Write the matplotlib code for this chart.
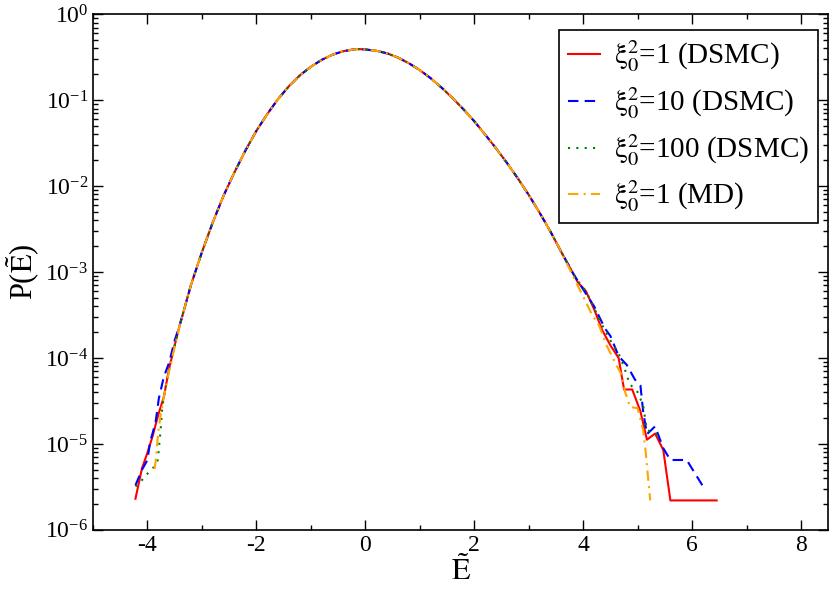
import matplotlib
matplotlib.use('Agg')
import matplotlib.pyplot as plt
from matplotlib.ticker import MultipleLocator, LogLocator

plt.rcParams['font.family'] = ['Liberation Serif', 'DejaVu Serif']
plt.rcParams['mathtext.fontset'] = 'stix'
plt.rcParams['axes.unicode_minus'] = False

# common central part of the distributions (all four curves overlap here)
body_x = [-3.4, -3.2, -3.0, -2.8, -2.6, -2.4, -2.2, -2.0, -1.8, -1.6, -1.4, -1.2,
          -1.0, -0.8, -0.6, -0.4, -0.2, -0.1, 0.0, 0.2, 0.4, 0.6, 0.8, 1.0, 1.2,
          1.4, 1.6, 1.8, 2.0, 2.2, 2.4, 2.6, 2.8, 3.0, 3.2, 3.4, 3.6]
body_p = [2.5e-4, 7.1e-4, 1.7e-3, 3.8e-3, 7.8e-3, 1.46e-2, 2.6e-2, 4.4e-2, 6.9e-2,
          0.1035, 0.146, 0.195, 0.245, 0.295, 0.339, 0.372, 0.391, 0.393, 0.389,
          0.376, 0.351, 0.313, 0.269, 0.224, 0.180, 0.140, 0.106, 0.0785, 0.0569,
          0.0398, 0.0275, 0.0186, 0.0123, 0.0079, 0.0049, 0.00295, 0.0017]

# xi0^2 = 1 (DSMC)
red_left_x = [-4.22, -4.1, -4.0, -3.9, -3.8, -3.7, -3.6, -3.5]
red_left_p = [2.3e-6, 5.2e-6, 7.9e-6, 1.26e-5, 2.2e-5, 3.5e-5, 7.6e-5, 1.4e-4]
red_right_x = [3.8, 3.9, 4.05, 4.2, 4.35, 4.5, 4.65, 4.75, 4.9, 5.05, 5.17, 5.32,
               5.47, 5.6, 6.45]
red_right_p = [1.0e-3, 7.6e-4, 6.0e-4, 3.7e-4, 2.1e-4, 1.4e-4, 1.0e-4, 4.3e-5,
               4.3e-5, 2.4e-5, 1.12e-5, 1.32e-5, 8.5e-6, 2.2e-6, 2.2e-6]

# xi0^2 = 10 (DSMC)
blue_left_x = [-4.22, -4.1, -4.0, -3.95, -3.91, -3.85, -3.79, -3.7, -3.6, -3.5]
blue_left_p = [3.3e-6, 5.0e-6, 6.5e-6, 1.07e-5, 1.3e-5, 1.8e-5, 3.4e-5, 6.0e-5,
               8.9e-5, 1.6e-4]
blue_right_x = [3.8, 3.9, 4.05, 4.2, 4.4, 4.5, 4.65, 4.8, 4.95, 5.05, 5.1, 5.17,
                5.32, 5.47, 5.6, 5.9, 6.2]
blue_right_p = [1.0e-3, 7.9e-4, 5.6e-4, 4.0e-4, 2.2e-4, 1.8e-4, 1.05e-4, 8.3e-5,
                5.6e-5, 4.8e-5, 2.4e-5, 1.3e-5, 1.6e-5, 8.9e-6, 6.5e-6, 6.5e-6,
                3.2e-6]

# xi0^2 = 100 (DSMC)
green_left_x = [-4.22, -4.1, -4.0, -3.88, -3.81, -3.76, -3.73, -3.7, -3.6, -3.5]
green_left_p = [3.2e-6, 3.8e-6, 4.5e-6, 5.4e-6, 6.5e-6, 1.4e-5, 2.5e-5, 3.5e-5,
                7.6e-5, 1.4e-4]
green_right_x = [3.8, 3.9, 4.05, 4.2, 4.35, 4.5, 4.65, 4.75, 4.85, 5.0, 5.1,
                 5.17, 5.4]
green_right_p = [1.0e-3, 7.9e-4, 6.0e-4, 3.8e-4, 2.4e-4, 1.6e-4, 1.12e-4, 7.9e-5,
                 5.0e-5, 4.0e-5, 2.8e-5, 1.45e-5, 1.26e-5]

# xi0^2 = 1 (MD)
orange_left_x = [-3.87, -3.85, -3.8, -3.76, -3.7, -3.6, -3.5]
orange_left_p = [5.1e-6, 6.2e-6, 1.4e-5, 2.1e-5, 3.5e-5, 7.1e-5, 1.35e-4]
orange_right_x = [3.7, 3.86, 3.95, 4.16, 4.29, 4.43, 4.59, 4.71, 4.77, 4.86, 5.0,
                  5.1, 5.14, 5.23]
orange_right_p = [1.26e-3, 7.8e-4, 6.0e-4, 3.2e-4, 2.4e-4, 1.4e-4, 8.7e-5, 6.3e-5,
                  4.0e-5, 2.7e-5, 2.6e-5, 1.45e-5, 8.9e-6, 2.2e-6]

labels = [r'$\mathrm{\xi}_0^2$=1 (DSMC)', r'$\mathrm{\xi}_0^2$=10 (DSMC)',
          r'$\mathrm{\xi}_0^2$=100 (DSMC)', r'$\mathrm{\xi}_0^2$=1 (MD)']

series = [
    (red_left_x, red_left_p, red_right_x, red_right_p, '#ff0000', '-'),
    (blue_left_x, blue_left_p, blue_right_x, blue_right_p, '#0000ff', (0, (5, 3))),
    (green_left_x, green_left_p, green_right_x, green_right_p, '#008000', (0, (1, 3))),
    (orange_left_x, orange_left_p, orange_right_x, orange_right_p, '#ffa500',
     (0, (5, 2.5, 1, 2.5))),
]

fig = plt.figure(figsize=(8.3, 5.94), dpi=100)
ax = fig.add_axes([0.112, 0.108, 0.886, 0.868])

for (lx, lp, rx, rp, col, ls), lab in zip(series, labels):
    x = lx + body_x + rx
    p = lp + body_p + rp
    ax.plot(x, p, color=col, linestyle=ls, linewidth=1.5, label=lab)

ax.set_yscale('log')
ax.set_xlim(-5, 8.5)
ax.set_ylim(1e-6, 1)
ax.xaxis.set_major_locator(MultipleLocator(2))
ax.xaxis.set_minor_locator(MultipleLocator(1))
ax.yaxis.set_major_locator(LogLocator(base=10, numticks=10))
ax.yaxis.set_minor_locator(LogLocator(base=10, subs=range(2, 10), numticks=20))
ax.tick_params(which='both', direction='in', top=True, right=True, labelsize=17,
               width=1.0)
ax.tick_params(which='major', length=7)
ax.tick_params(which='minor', length=3.5)
for s in ax.spines.values():
    s.set_linewidth(1.2)

ax.set_xlabel(r'$\tilde{\mathrm{E}}$', fontsize=22, labelpad=0)
ax.set_ylabel(r'P($\tilde{\mathrm{E}}$)', fontsize=22, labelpad=2)

leg = ax.legend(loc='upper right', bbox_to_anchor=(0.986, 0.969), borderaxespad=0,
                fontsize=21, fancybox=False, edgecolor='black', framealpha=1,
                handlelength=1.1, handletextpad=0.5, labelspacing=0.38,
                borderpad=0.3)
leg.get_frame().set_linewidth(1.2)

fig.savefig('out.png', dpi=100)
